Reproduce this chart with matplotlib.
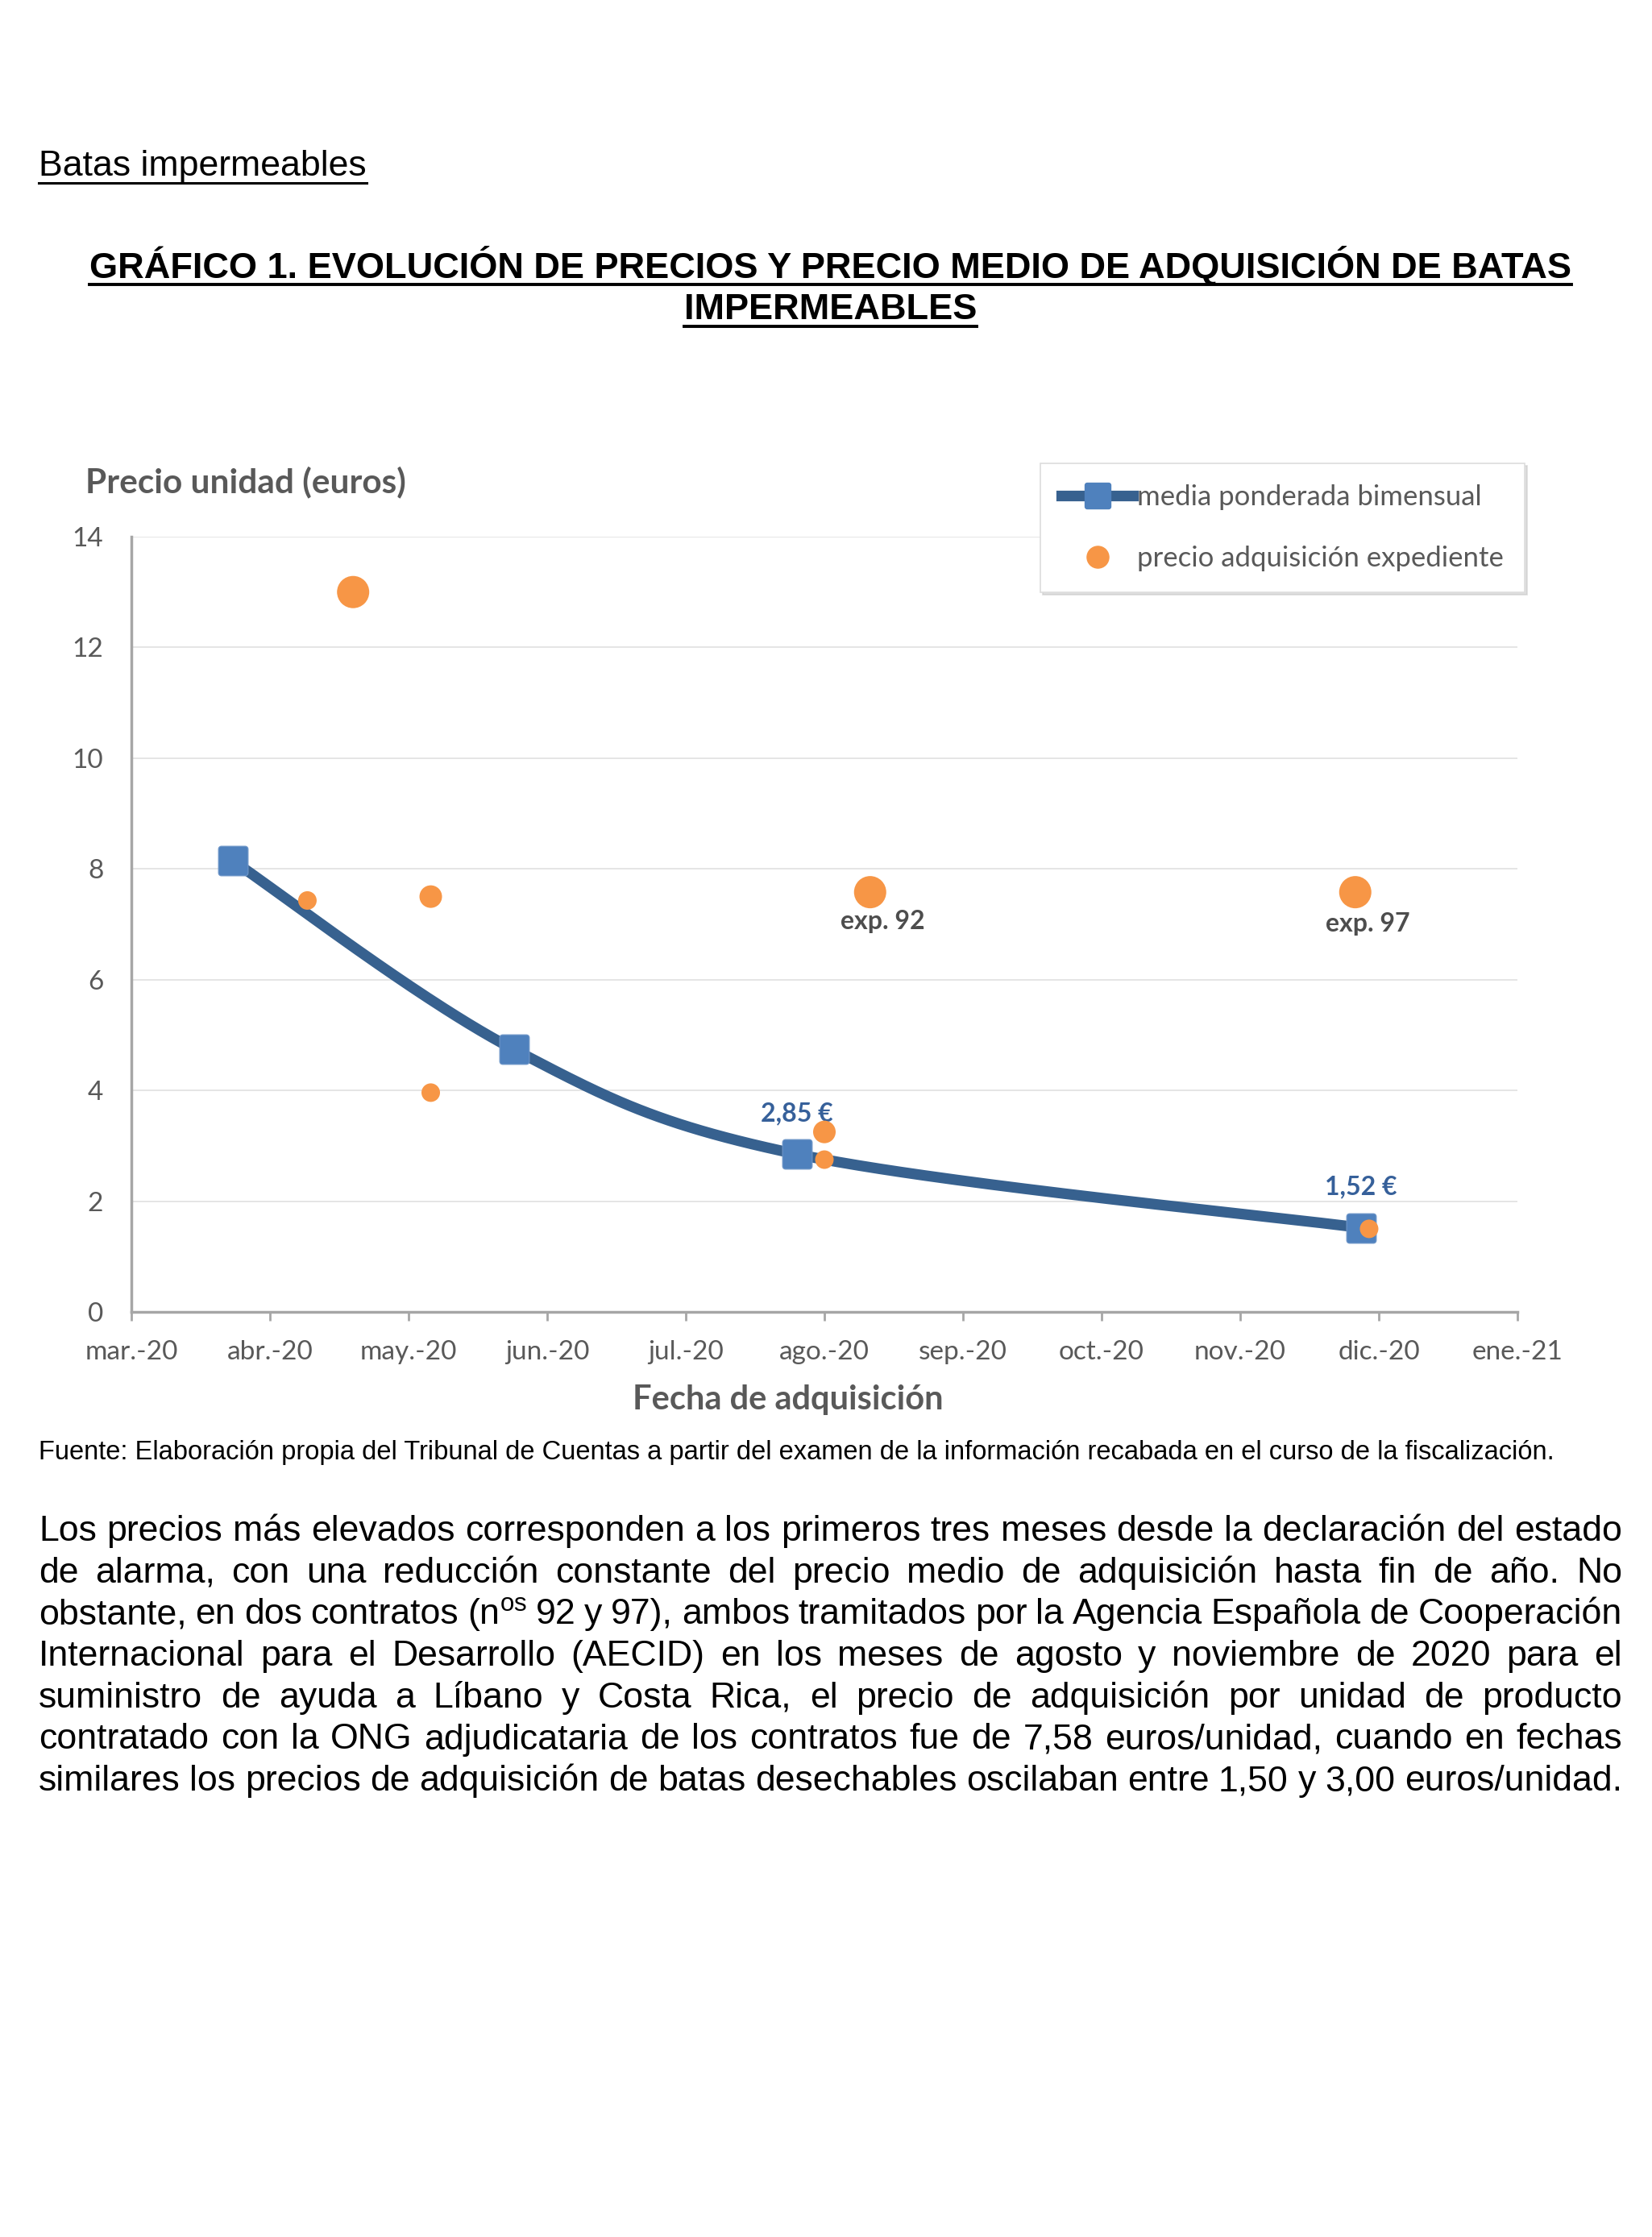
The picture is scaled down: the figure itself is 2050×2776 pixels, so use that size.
import matplotlib
matplotlib.use("Agg")
import matplotlib.pyplot as plt
import numpy as np
from matplotlib.path import Path
from matplotlib.lines import Line2D

# --- datos (eje x en meses contados desde mar.-20) ---
month_labels = ["mar.-20", "abr.-20", "may.-20", "jun.-20", "jul.-20", "ago.-20",
                "sep.-20", "oct.-20", "nov.-20", "dic.-20", "ene.-21"]
media_x = [0.73, 2.76, 4.80, 8.87]
media_y = [8.15, 4.74, 2.85, 1.52]
media_labelled = [2, 3]

exp_x = [1.27, 1.60, 2.16, 2.16, 5.00, 5.00, 5.33, 8.83, 8.93]
exp_y = [7.43, 13.00, 7.50, 3.96, 3.25, 2.75, 7.58, 7.58, 1.50]
exp_names = {6: "exp. 92", 7: "exp. 97"}
exp_diam_px = [23, 40, 28, 23, 28, 23, 40, 40, 23]

legend_labels = ["media ponderada bimensual", "precio adquisición expediente"]

paragraph = [
    "Los precios más elevados corresponden a los primeros tres meses desde la declaración del estado",
    "de alarma, con una reducción constante del precio medio de adquisición hasta fin de año. No",
    r"obstante, en dos contratos (n$^{\mathrm{os}}$ 92 y 97), ambos tramitados por la Agencia Española de Cooperación",
    "Internacional para el Desarrollo (AECID) en los meses de agosto y noviembre de 2020 para el",
    "suministro de ayuda a Líbano y Costa Rica, el precio de adquisición por unidad de producto",
    "contratado con la ONG adjudicataria de los contratos fue de 7,58 euros/unidad, cuando en fechas",
    "similares los precios de adquisición de batas desechables oscilaban entre 1,50 y 3,00 euros/unidad.",
]

W, H = 2050, 2776
LINE_C = "#37618F"
SQ_C = "#4F81BD"
OR_C = "#F79646"
GREY = "#595959"
CH_FONT = "Lato"
DOC_FONT = "Liberation Sans"

plt.rcParams["mathtext.fontset"] = "custom"
plt.rcParams["mathtext.rm"] = DOC_FONT


def fx(px):
    return px / W


def fy(py):
    return 1 - py / H


def smooth(xs, ys, n=80):
    # curva suavizada tipo Excel (Bezier / Catmull-Rom)
    pts = np.column_stack([xs, ys])
    p = np.vstack([pts[0], pts, pts[-1]])
    t = np.linspace(0, 1, n)[:, None]
    out = []
    for i in range(1, len(p) - 2):
        p0, p1, p2, p3 = p[i - 1], p[i], p[i + 1], p[i + 2]
        c1 = p1 + (p2 - p0) / 6
        c2 = p2 - (p3 - p1) / 6
        out.append((1 - t) ** 3 * p1 + 3 * (1 - t) ** 2 * t * c1
                   + 3 * (1 - t) * t ** 2 * c2 + t ** 3 * p2)
    return np.vstack(out)


def rounded_square(r=0.2, n=8):
    verts = []
    for cx, cy, a0 in [(1 - r, 1 - r, 0), (-1 + r, 1 - r, 90),
                       (-1 + r, -1 + r, 180), (1 - r, -1 + r, 270)]:
        ang = np.radians(np.linspace(a0, a0 + 90, n))
        verts += list(zip(cx + r * np.cos(ang), cy + r * np.sin(ang)))
    verts.append(verts[0])
    return Path(verts, closed=True)


fig = plt.figure(figsize=(W / 100, H / 100), dpi=100)
fig.patch.set_facecolor("white")
renderer = fig.canvas.get_renderer()

# --- gráfico ---
ax = fig.add_axes([fx(163), fy(1628), fx(1883) - fx(163), fy(666) - fy(1628)])
ax.set_xlim(0, 10)
ax.set_ylim(0, 14)
ax.set_xticks(range(len(month_labels)))
ax.set_xticklabels(month_labels)
ax.set_yticks(range(0, 15, 2))
for s in ["top", "right"]:
    ax.spines[s].set_visible(False)
for s in ["left", "bottom"]:
    ax.spines[s].set_color("#A6A6A6")
    ax.spines[s].set_linewidth(2.5)
ax.tick_params(axis="x", length=8, width=2, color="#A6A6A6", pad=17,
               labelsize=24, labelcolor=GREY)
ax.tick_params(axis="y", length=0, pad=25, labelsize=24, labelcolor=GREY)
for lab in ax.get_xticklabels() + ax.get_yticklabels():
    lab.set_fontfamily(CH_FONT)
ax.grid(axis="y", color="#E3E3E3", linewidth=1.3)
ax.set_axisbelow(True)

curve = smooth(media_x, media_y)
rsq = rounded_square()
ax.plot(curve[:, 0], curve[:, 1], color=LINE_C, linewidth=9.5,
        solid_capstyle="butt", zorder=3)
ax.plot(media_x, media_y, linestyle="none", marker=rsq, markersize=26.5,
        markerfacecolor=SQ_C, markeredgecolor="#6F97C9", markeredgewidth=0.8,
        zorder=4)
ax.scatter(exp_x, exp_y, s=[(d * 0.72) ** 2 for d in exp_diam_px],
           color=OR_C, edgecolors="none", zorder=5)

for i in media_labelled:
    ax.annotate(f"{media_y[i]:.2f} €".replace(".", ","), (media_x[i], media_y[i]),
                xytext=(0, 36.5), textcoords="offset points", ha="center", va="center",
                fontsize=23, fontweight="bold", color="#36609A", family=CH_FONT)
for i, name in exp_names.items():
    dy = -26 if i == 6 else -28
    ax.annotate(name, (exp_x[i], exp_y[i]), xytext=(11, dy), textcoords="offset points",
                ha="center", va="center", fontsize=23, fontweight="bold",
                color="#4D4D4D", family=CH_FONT)

h1 = Line2D([], [], color=LINE_C, linewidth=9.5, marker=rsq, markersize=24,
            markerfacecolor=SQ_C, markeredgewidth=0)
h2 = Line2D([], [], linestyle="none", marker="o", markersize=19.5, color=OR_C)
leg = ax.legend([h1, h2], legend_labels, loc="upper right",
                bbox_to_anchor=(fx(1892), fy(575)), bbox_transform=fig.transFigure,
                borderaxespad=0, prop={"family": CH_FONT, "size": 25}, labelcolor=GREY,
                handlelength=2.55, handletextpad=0.15, borderpad=0.75,
                labelspacing=1.26, fancybox=False, framealpha=1,
                edgecolor="#DDDDDD", shadow={"color": "#C8C8C8", "alpha": 0.6})
leg.get_frame().set_linewidth(1.2)

fig.text(fx(106), fy(598), "Precio unidad (euros)", ha="left", va="center",
         fontsize=30.5, fontweight="bold", color=GREY, family=CH_FONT)
fig.text(fx(978), fy(1737), "Fecha de adquisición", ha="center", va="center",
         fontsize=30, fontweight="bold", color=GREY, family=CH_FONT)


# --- texto del documento ---
def fit(txt, target_px):
    w = txt.get_window_extent(renderer).width
    txt.set_fontsize(txt.get_fontsize() * target_px / w)


def underline(txt, y_px, lw=3):
    bb = txt.get_window_extent(renderer)
    fig.add_artist(Line2D([bb.x0 / W, bb.x1 / W], [fy(y_px), fy(y_px)],
                          transform=fig.transFigure, color="black", linewidth=lw))


t0 = fig.text(fx(48), fy(218), "Batas impermeables", ha="left", va="baseline",
              fontsize=28, family=DOC_FONT, color="black")
fit(t0, 407)
underline(t0, 227, 2.2)

t1 = fig.text(0.5 * (fx(110) + fx(1951)), fy(345),
              "GRÁFICO 1. EVOLUCIÓN DE PRECIOS Y PRECIO MEDIO DE ADQUISICIÓN DE BATAS",
              ha="center", va="baseline", fontsize=28, fontweight="bold",
              family=DOC_FONT, color="black")
fit(t1, 1841)
underline(t1, 353, 2.8)
t2 = fig.text(0.5 * (fx(110) + fx(1951)), fy(396), "IMPERMEABLES", ha="center",
              va="baseline", fontsize=t1.get_fontsize(), fontweight="bold",
              family=DOC_FONT, color="black")
underline(t2, 405, 2.8)

t3 = fig.text(fx(48), fy(1811),
              "Fuente: Elaboración propia del Tribunal de Cuentas a partir del examen de la "
              "información recabada en el curso de la fiscalización.",
              ha="left", va="baseline", fontsize=20, family=DOC_FONT, color="black")
fit(t3, 1874)

body_size = t0.get_fontsize()
left, right = 48, 2013
for k, line in enumerate(paragraph):
    words = line.split(" ")
    arts = [fig.text(0, fy(1912 + 51.7 * k), w, ha="left", va="baseline",
                     fontsize=body_size, family=DOC_FONT, color="black") for w in words]
    widths = [a.get_window_extent(renderer).width for a in arts]
    gap = (right - left - sum(widths)) / (len(words) - 1)
    x = left
    for a, w in zip(arts, widths):
        a.set_x(fx(x))
        x += w + gap

fig.savefig("out.png", dpi=100, facecolor="white")
